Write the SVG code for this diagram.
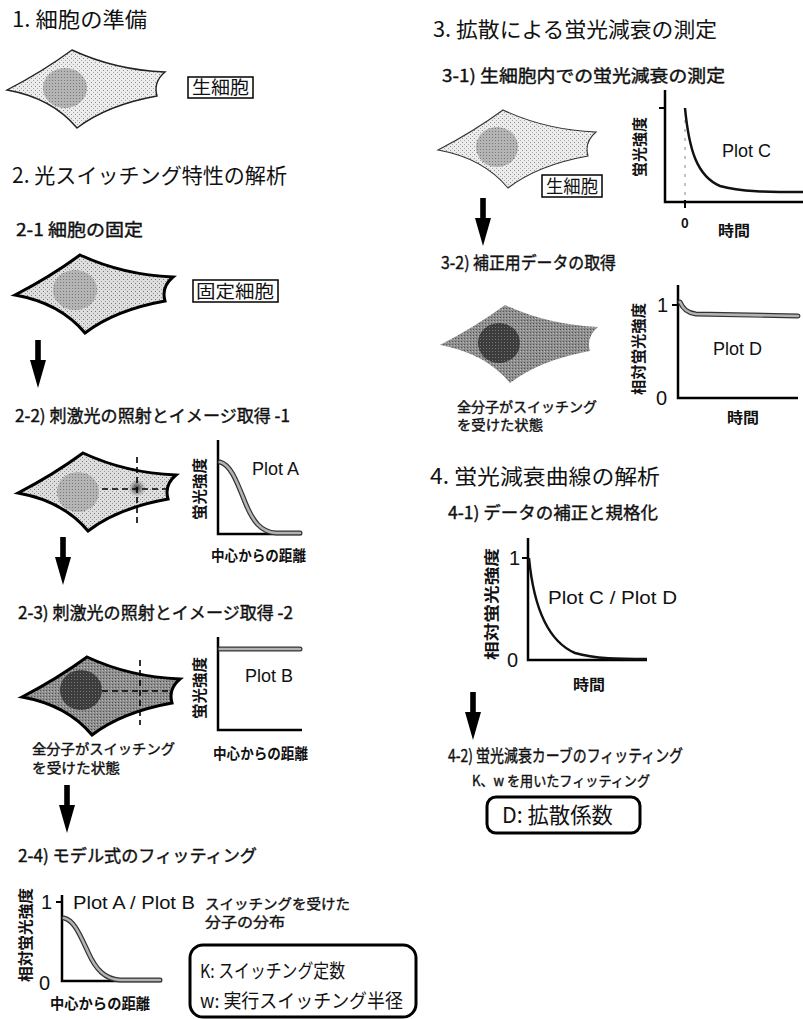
<svg xmlns="http://www.w3.org/2000/svg" width="803" height="1019" viewBox="0 0 803 1019">
  <style>
    text { font-family: "Noto Sans CJK JP", "Liberation Sans", sans-serif; fill: #111; }
    .h1 { font-size: 21px; }
    .h2 { font-size: 17px; stroke: #111; stroke-width: 0.4; }
    .lbl { font-size: 15px; font-weight: bold; }
    .sm { font-size: 14px; stroke: #111; stroke-width: 0.4; }
    .plot { font-family: "Liberation Sans", "Noto Sans CJK JP", sans-serif; font-size: 18px; }
    .num { font-family: "Liberation Sans", sans-serif; font-size: 20px; }
    .ax { fill: none; stroke: #000; stroke-width: 2.5; }
    .tick { stroke: #000; stroke-width: 2; }
    .box { fill: #fff; stroke: #000; stroke-width: 1.5; }
    .rbox { fill: #fff; stroke: #000; stroke-width: 3; }
    .curveO { fill: none; stroke: #333; stroke-width: 5; stroke-linecap: round; }
    .curveI { fill: none; stroke: #b3b3b3; stroke-width: 2.6; stroke-linecap: round; }
    .curveK { fill: none; stroke: #111; stroke-width: 2.5; }
    .dash { stroke: #000; stroke-width: 1.6; stroke-dasharray: 6 4; fill: none; }
    .arrow { fill: #000; }
  </style>
  <defs>
    <!-- stipple textures for the cells -->
    <pattern id="stLight" width="4" height="4" patternUnits="userSpaceOnUse">
      <rect width="4" height="4" fill="#ececec"/>
      <rect x="0" y="0" width="1" height="1" fill="#8c8c8c"/>
      <rect x="2" y="2" width="1" height="1" fill="#a8a8a8"/>
    </pattern>
    <pattern id="stMid" width="4" height="4" patternUnits="userSpaceOnUse">
      <rect width="4" height="4" fill="#dedede"/>
      <rect x="0" y="0" width="1" height="1" fill="#777"/>
      <rect x="2" y="2" width="1" height="1" fill="#999"/>
    </pattern>
    <pattern id="stNuc" width="3" height="3" patternUnits="userSpaceOnUse">
      <rect width="3" height="3" fill="#b4b4b4"/>
      <rect x="0" y="0" width="1" height="1" fill="#777"/>
    </pattern>
    <pattern id="stDark" width="3" height="3" patternUnits="userSpaceOnUse">
      <rect width="3" height="3" fill="#8e8e8e"/>
      <rect x="0" y="0" width="1" height="1" fill="#555"/>
      <rect x="2" y="1" width="1" height="1" fill="#bbb"/>
    </pattern>
    <pattern id="stDarkNuc" width="3" height="3" patternUnits="userSpaceOnUse">
      <rect width="3" height="3" fill="#3c3c3c"/>
      <rect x="1" y="1" width="1" height="1" fill="#777"/>
    </pattern>
    <radialGradient id="spot">
      <stop offset="0" stop-color="#333"/>
      <stop offset="0.5" stop-color="#777" stop-opacity="0.7"/>
      <stop offset="1" stop-color="#999" stop-opacity="0"/>
    </radialGradient>
    <!-- generic cell outline -->
    <path id="cell" d="M0,40 Q35,22 65,0 Q108,20 158,22 Q146,32 150,46 Q100,55 70,78 Q45,48 0,40 Z"/>
    <!-- down arrow: shaft then long narrow head, 48 px tall -->
    <path id="arr" d="M-2.8,0 H2.8 V20 H8 L0,48 L-8,20 H-2.8 Z"/>
  </defs>

  <!-- ===== 1. cell preparation ===== -->
  <text class="h1" x="12" y="27" textLength="135" lengthAdjust="spacingAndGlyphs">1. 細胞の準備</text>
  <g id="cell-live-1" transform="translate(7,50)">
    <use href="#cell" fill="url(#stLight)" stroke="#222" stroke-width="1.4"/>
    <ellipse cx="58" cy="38" rx="22" ry="20" fill="url(#stNuc)"/>
  </g>
  <g id="label-live-1">
    <rect class="box" x="188" y="77" width="65" height="21"/>
    <text x="192" y="94" font-size="18" textLength="57" lengthAdjust="spacingAndGlyphs">生細胞</text>
  </g>

  <!-- ===== 2. photoswitching analysis ===== -->
  <text class="h1" x="12" y="183" textLength="275" lengthAdjust="spacingAndGlyphs">2. 光スイッチング特性の解析</text>
  <text class="h2" x="16" y="236" textLength="127" lengthAdjust="spacingAndGlyphs">2-1 細胞の固定</text>
  <g id="cell-fixed" transform="translate(15,255)">
    <use href="#cell" fill="url(#stMid)" stroke="#000" stroke-width="3"/>
    <ellipse cx="60" cy="35" rx="22" ry="20" fill="url(#stNuc)"/>
  </g>
  <g id="label-fixed">
    <rect class="box" x="193" y="280" width="85" height="22"/>
    <text x="196" y="298" font-size="18" textLength="78" lengthAdjust="spacingAndGlyphs">固定細胞</text>
  </g>

  <text class="h2" x="15" y="422" textLength="275" lengthAdjust="spacingAndGlyphs">2-2) 刺激光の照射とイメージ取得 -1</text>
  <g id="cell-stim-1" transform="translate(18,453)">
    <use href="#cell" fill="url(#stMid)" stroke="#000" stroke-width="3"/>
    <ellipse cx="60" cy="39" rx="21" ry="20" fill="url(#stNuc)"/>
    <circle cx="119" cy="35" r="9" fill="url(#spot)"/>
    <line class="dash" x1="84" y1="36" x2="152" y2="36"/>
    <line class="dash" x1="119" y1="4" x2="119" y2="70"/>
  </g>
  <g id="plot-a">
    <path class="ax" d="M218,440 V534 H302"/>
    <path class="curveO" d="M220,462 C231,465 237,482 245,502 C253,522 261,532 276,533 L300,533"/>
    <path class="curveI" d="M220,462 C231,465 237,482 245,502 C253,522 261,532 276,533 L300,533"/>
    <text class="plot" x="252" y="475">Plot A</text>
    <text class="lbl" transform="translate(198,489) rotate(-90)" text-anchor="middle" dominant-baseline="central" textLength="62" lengthAdjust="spacingAndGlyphs">蛍光強度</text>
    <text class="lbl" x="211" y="561" textLength="95" lengthAdjust="spacingAndGlyphs">中心からの距離</text>
  </g>

  <text class="h2" x="18" y="619" textLength="275" lengthAdjust="spacingAndGlyphs">2-3) 刺激光の照射とイメージ取得 -2</text>
  <g id="cell-stim-2" transform="translate(22,657)">
    <use href="#cell" fill="url(#stDark)" stroke="#000" stroke-width="3"/>
    <ellipse cx="59" cy="33" rx="21" ry="20" fill="url(#stDarkNuc)"/>
    <line class="dash" x1="80" y1="34" x2="148" y2="34"/>
    <line class="dash" x1="118" y1="3" x2="118" y2="68"/>
  </g>
  <g id="caption-switched-1">
    <text class="sm" x="32" y="754" textLength="143" lengthAdjust="spacingAndGlyphs">全分子がスイッチング</text>
    <text class="sm" x="32" y="773" textLength="88" lengthAdjust="spacingAndGlyphs">を受けた状態</text>
  </g>
  <g id="plot-b">
    <path class="ax" d="M218,637 V730 H302"/>
    <path class="curveO" d="M220,649 L300,649" stroke-width="4"/>
    <path class="curveI" d="M220,649 L300,649" stroke-width="2"/>
    <text class="plot" x="245" y="682">Plot B</text>
    <text class="lbl" transform="translate(198,688) rotate(-90)" text-anchor="middle" dominant-baseline="central" textLength="62" lengthAdjust="spacingAndGlyphs">蛍光強度</text>
    <text class="lbl" x="213" y="759" textLength="95" lengthAdjust="spacingAndGlyphs">中心からの距離</text>
  </g>

  <text class="h2" x="18" y="862" textLength="239" lengthAdjust="spacingAndGlyphs">2-4) モデル式のフィッティング</text>
  <g id="plot-ab">
    <path class="ax" d="M62,895 V981 H162"/>
    <line class="tick" x1="56" y1="902" x2="62" y2="902"/>
    <text class="num" x="41" y="909">1</text>
    <text class="num" x="39" y="990">0</text>
    <path class="curveO" d="M64,918 C74,920 80,935 88,952 C96,970 105,979 120,980 L160,980"/>
    <path class="curveI" d="M64,918 C74,920 80,935 88,952 C96,970 105,979 120,980 L160,980"/>
    <text class="plot" x="73" y="909" textLength="122" lengthAdjust="spacingAndGlyphs">Plot A / Plot B</text>
    <text class="lbl" transform="translate(24,935) rotate(-90)" text-anchor="middle" dominant-baseline="central" textLength="94" lengthAdjust="spacingAndGlyphs">相対蛍光強度</text>
    <text class="lbl" x="50" y="1009" textLength="100" lengthAdjust="spacingAndGlyphs">中心からの距離</text>
  </g>
  <g id="caption-distribution">
    <text class="sm" x="205" y="909" textLength="145" lengthAdjust="spacingAndGlyphs">スイッチングを受けた</text>
    <text class="sm" x="205" y="927" textLength="80" lengthAdjust="spacingAndGlyphs">分子の分布</text>
  </g>
  <g id="result-k-w">
    <rect class="rbox" x="190" y="945" width="226" height="72" rx="13"/>
    <text x="200" y="978" font-size="19" textLength="145" lengthAdjust="spacingAndGlyphs">K: スイッチング定数</text>
    <text x="200" y="1008" font-size="19" textLength="203" lengthAdjust="spacingAndGlyphs">w: 実行スイッチング半径</text>
  </g>

  <!-- ===== 3. fluorescence decay by diffusion ===== -->
  <text class="h1" x="433" y="37" textLength="284" lengthAdjust="spacingAndGlyphs">3. 拡散による蛍光減衰の測定</text>
  <text class="h2" x="442" y="82" textLength="283" lengthAdjust="spacingAndGlyphs">3-1) 生細胞内での蛍光減衰の測定</text>
  <g id="cell-live-2" transform="translate(438,110)">
    <use href="#cell" fill="url(#stLight)" stroke="#333" stroke-width="1.1"/>
    <ellipse cx="59" cy="37" rx="21" ry="20" fill="url(#stNuc)"/>
  </g>
  <g id="label-live-2">
    <rect class="box" x="542" y="175" width="60" height="22"/>
    <text x="546" y="193" font-size="18" textLength="52" lengthAdjust="spacingAndGlyphs">生細胞</text>
  </g>
  <g id="plot-c">
    <path class="ax" d="M665,90 V202 H803"/>
    <line class="tick" x1="659" y1="108" x2="665" y2="108"/>
    <line class="tick" x1="685" y1="200" x2="685" y2="208"/>
    <line x1="685" y1="120" x2="685" y2="198" stroke="#888" stroke-width="1" stroke-dasharray="3 6"/>
    <path class="curveK" d="M685,108 C689,150 697,176 720,186 C740,192 770,192 803,192"/>
    <text class="plot" x="722" y="157">Plot C</text>
    <text x="681" y="228" font-family="Liberation Sans, sans-serif" font-size="13" font-weight="bold">0</text>
    <text class="lbl" x="718" y="236" textLength="32" lengthAdjust="spacingAndGlyphs">時間</text>
    <text class="lbl" transform="translate(638,147) rotate(-90)" text-anchor="middle" dominant-baseline="central" textLength="60" lengthAdjust="spacingAndGlyphs">蛍光強度</text>
  </g>

  <text class="h2" x="441" y="269" textLength="175" lengthAdjust="spacingAndGlyphs">3-2) 補正用データの取得</text>
  <g id="cell-switched" transform="translate(440,305)">
    <use href="#cell" fill="url(#stDark)"/>
    <ellipse cx="59" cy="38" rx="21" ry="20" fill="url(#stDarkNuc)"/>
  </g>
  <g id="caption-switched-2">
    <text class="sm" x="457" y="412" textLength="140" lengthAdjust="spacingAndGlyphs">全分子がスイッチング</text>
    <text class="sm" x="457" y="430" textLength="86" lengthAdjust="spacingAndGlyphs">を受けた状態</text>
  </g>
  <g id="plot-d">
    <path class="ax" d="M678,285 V398 H798"/>
    <line class="tick" x1="672" y1="305" x2="678" y2="305"/>
    <text class="num" x="657" y="312">1</text>
    <text class="num" x="656" y="405">0</text>
    <path class="curveO" d="M680,302 C683,309 687,313 696,314 L798,316" stroke-width="3.5"/>
    <path class="curveI" d="M680,302 C683,309 687,313 696,314 L798,316" stroke-width="1.6"/>
    <text class="plot" x="713" y="355">Plot D</text>
    <text class="lbl" x="727" y="423" textLength="32" lengthAdjust="spacingAndGlyphs">時間</text>
    <text class="lbl" transform="translate(637,349) rotate(-90)" text-anchor="middle" dominant-baseline="central" textLength="92" lengthAdjust="spacingAndGlyphs">相対蛍光強度</text>
  </g>

  <!-- ===== 4. decay curve analysis ===== -->
  <text class="h1" x="430" y="484" textLength="230" lengthAdjust="spacingAndGlyphs">4. 蛍光減衰曲線の解析</text>
  <text class="h2" x="448" y="519" textLength="210" lengthAdjust="spacingAndGlyphs">4-1) データの補正と規格化</text>
  <g id="plot-cd">
    <path class="ax" d="M528,538 V660 H647"/>
    <line class="tick" x1="522" y1="558" x2="528" y2="558"/>
    <text class="num" x="509" y="565">1</text>
    <text class="num" x="507" y="667">0</text>
    <path class="curveK" d="M529,558 C533,600 545,640 575,653 C595,659 620,659 647,659"/>
    <text class="plot" x="548" y="604" textLength="129" lengthAdjust="spacingAndGlyphs">Plot C / Plot D</text>
    <text class="lbl" x="573" y="690" textLength="32" lengthAdjust="spacingAndGlyphs">時間</text>
    <text class="lbl" transform="translate(490,604) rotate(-90)" text-anchor="middle" dominant-baseline="central" textLength="112" lengthAdjust="spacingAndGlyphs">相対蛍光強度</text>
  </g>
  <text class="h2" x="448" y="762" textLength="235" lengthAdjust="spacingAndGlyphs">4-2) 蛍光減衰カーブのフィッティング</text>
  <text class="sm" x="472" y="786" textLength="178" lengthAdjust="spacingAndGlyphs">K、w を用いたフィッティング</text>
  <g id="result-d">
    <rect class="rbox" x="487" y="797" width="153" height="36" rx="9"/>
    <text x="502" y="823" font-size="22" textLength="111" lengthAdjust="spacingAndGlyphs">D: 拡散係数</text>
  </g>

  <!-- flow arrows -->
  <g id="connectors" class="arrow">
    <use href="#arr" x="38" y="340"/>
    <use href="#arr" x="63" y="537"/>
    <use href="#arr" x="67" y="785"/>
    <use href="#arr" x="483" y="198"/>
    <use href="#arr" x="473" y="692"/>
  </g>
</svg>
